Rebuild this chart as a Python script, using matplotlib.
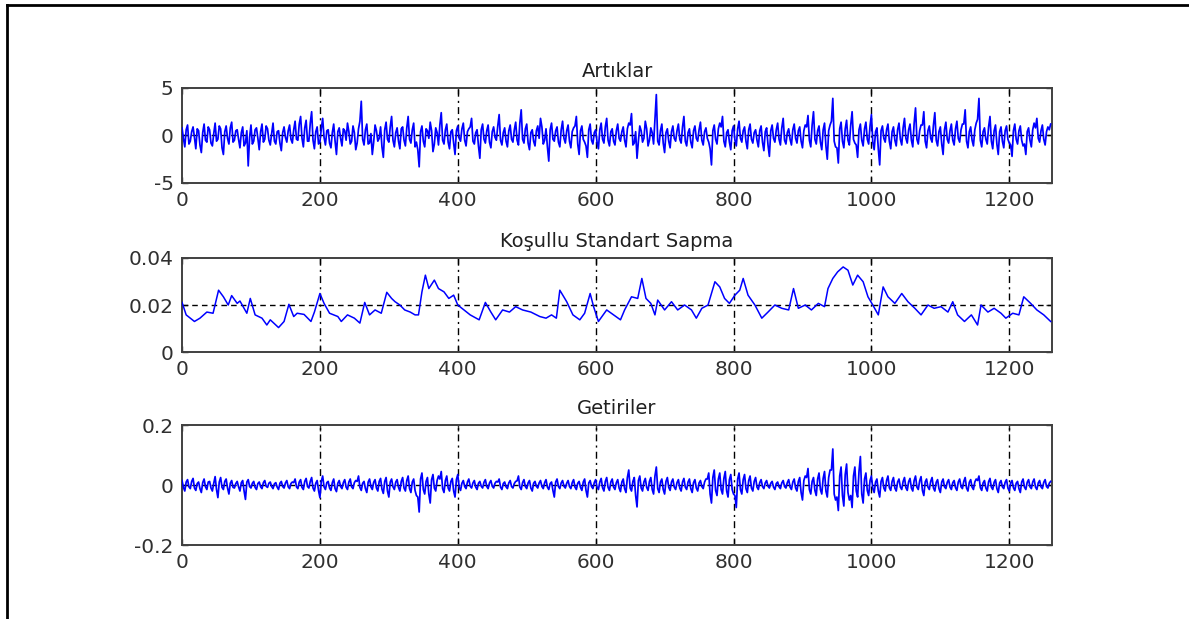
import matplotlib
matplotlib.use("Agg")
import matplotlib.pyplot as plt
from matplotlib.lines import Line2D
import numpy as np

# ---------------------------------------------------------------------------#
# data
# residuals / returns: *_a at t = 0, 4, 8, ...   *_b at t = 2, 6, 10, ...
# ---------------------------------------------------------------------------#
step = 2

residuals_a = [
    0.8, -1.2, 1.1, -0.6, 0.9, -1.4, 0.5, -1.8, 1.2, -0.7, 0.6, -1.1, 1.3, -0.4, 0.7, -2.0, 1.0, -0.9, 1.4, -0.5,
    0.6, -1.3, 0.9, -0.8, -3.2, 1.1, -0.6, 0.8, -1.5, 1.2, -0.4, 0.7, -1.0, 1.3, -0.9, 0.5, -1.6, 0.9, -0.7, 1.1,
    -0.8, 1.5, -0.5, 2.0, -1.2, 1.6, -0.6, 2.5, -1.4, 0.9, -0.7, 1.8, -1.0, 0.6, -1.3, 1.2, -2.0, 0.8, -1.1, 0.5,
    1.3, -0.9, 1.0, -1.5, 0.7, 3.6, -1.0, 1.2, -0.8, -2.0, 1.1, -0.6, 0.9, -2.3, 1.4, -0.7, 2.0, -1.2, 0.8, -1.4,
    0.9, -1.1, 2.0, -0.8, 1.3, -0.7, -3.3, 1.0, -1.2, 0.5, 1.4, -1.7, 0.8, -1.0, 2.4, -0.9, 1.2, -1.4, 0.6, -2.0,
    1.0, -0.6, 1.3, -1.1, 0.7, 1.8, -0.9, 0.6, -2.4, 1.2, -0.8, 1.1, -1.3, 0.9, -0.5, 2.2, -1.0, 0.8, -1.2, 1.1,
    -0.7, 1.4, -1.0, 2.7, -0.8, 1.2, -1.5, 0.6, -1.1, 1.0, 1.8, -0.9, 0.7, -2.7, 1.3, -0.6, 0.9, -1.2, 1.5, -0.8,
    1.1, -1.3, 0.8, 2.0, -2.0, 1.0, -0.7, -2.3, 1.2, -0.9, 0.6, -1.4, 1.3, -0.8, 1.8, -1.1, 0.7, -1.0, 1.2, -0.6,
    0.9, -1.2, 1.3, 2.3, -0.8, -2.4, 1.0, -0.7, 1.5, -1.1, 0.8, -0.9, 4.3, -1.0, 1.2, -1.8, 0.7, -1.3, 1.0, -0.6,
    1.2, -0.8, 2.0, -1.1, 0.7, -1.3, 1.0, -0.6, 1.4, -1.0, 0.8, -0.7, -3.1, 1.1, -0.9, 1.3, 2.0, -1.2, 0.6, -1.5,
    1.0, -1.1, 1.5, -0.7, 0.9, -1.4, 1.2, -0.8, 0.6, -1.2, 1.0, -1.6, 0.8, -2.2, 1.1, -0.7, 1.3, -1.0, 1.8, -0.9,
    0.7, -1.0, 1.2, -0.8, 0.9, -1.3, 1.1, 2.1, -1.2, 2.5, -0.9, 1.0, -1.5, 1.3, -2.5, 1.1, 3.9, -1.2, -2.9, 1.4,
    -1.3, 1.6, -1.0, 2.5, -0.8, -2.3, 1.2, -1.1, 1.4, -0.9, 2.2, -1.5, 0.8, -3.1, 1.0, -0.7, 1.2, -1.4, 0.9, -1.1,
    1.3, -1.0, 1.8, -0.8, 1.2, -1.2, 2.9, -0.9, 1.1, 2.5, -1.3, 1.0, -0.7, 2.4, -1.1, 0.9, -2.0, 1.4, -0.8, 1.2,
    -1.0, 1.5, -0.7, 1.2, 2.7, -1.3, 0.9, -1.1, 1.3, 3.9, -1.2, 0.8, -0.9, 2.0, -1.4, 1.1, -2.0, 0.9, -1.3, 1.0,
    -0.8, -2.2, 1.2, -0.9, 1.0, -1.1, -2.0, 0.8, -1.2, 1.3, 1.8, -0.7, 1.1, -1.0, 0.9, 1.2,
]
residuals_b = [
    -0.3, 0.6, -0.9, 0.4, -0.2, 0.7, -1.0, 0.3, -0.5, 0.9, -0.8, 0.2, -0.6, 1.0, -1.3, 0.4, -0.3, 0.8, -0.7, 0.5,
    -0.4, 0.3, -1.1, 0.5, -0.2, -0.9, 0.6, -0.3, 0.4, -0.7, 1.0, -0.5, 0.2, -0.6, 0.4, -0.8, 0.3, -0.2, 0.5, -0.4,
    0.6, -0.4, 1.2, -0.3, 0.8, -0.6, 1.3, -0.5, 0.4, -0.9, 0.7, -0.2, 0.5, -0.8, 0.3, -0.6, 0.4, -0.3, 0.7, -0.5,
    0.4, -0.6, 0.3, -0.8, 1.5, -0.4, 0.6, -0.9, 0.2, -0.7, 0.5, -0.3, -1.2, 0.6, -0.4, 0.9, -0.5, 0.3, -0.6, 0.7,
    -0.5, 0.8, -0.4, 0.6, -1.2, -1.5, 0.4, -0.6, 0.7, -0.3, 0.5, -0.9, 0.3, 1.1, -0.5, 0.6, -0.7, 0.4, -0.8, 0.5,
    -0.3, 0.7, -0.5, 0.4, 0.9, -0.6, 0.3, -1.1, 0.6, -0.4, 0.5, -0.7, 0.4, -0.2, 1.0, -0.5, 0.3, -0.6, 0.5, -0.4,
    0.6, -0.5, 1.3, -0.4, 0.7, -0.8, 0.3, -0.6, 0.5, -0.3, 0.9, -0.5, -1.2, 0.6, -0.4, 0.5, -0.7, 0.6, -0.3, 0.5,
    -0.6, 0.4, 1.0, -0.9, 0.5, -0.4, -1.1, 0.6, -0.5, 0.3, -0.7, 0.6, -0.4, 0.9, -0.5, 0.4, -0.6, 0.5, -0.3, 0.4,
    -0.5, 0.7, 1.1, -1.0, 0.4, -0.6, 0.5, -0.3, 0.7, -0.5, 0.3, 1.6, -0.6, 0.5, -0.8, 0.3, -0.6, 0.4, -0.3, 0.5,
    -0.4, 0.9, -0.6, 0.3, -0.7, 0.5, -0.3, 0.6, -0.5, 0.4, -0.3, -1.4, 0.5, -0.4, 0.7, 0.9, -0.6, 0.3, -0.7, 0.5,
    -0.5, 0.7, -0.3, 0.5, -0.6, 0.6, -0.4, 0.3, -0.5, 0.5, -0.7, 0.4, -1.0, 0.5, -0.3, 0.6, -0.4, 0.8, -0.5, 0.3,
    -0.4, 0.6, -0.3, 0.5, -0.6, 0.5, 0.9, -0.5, 1.1, -0.4, 0.5, -0.7, 0.6, -1.1, 0.5, 1.5, -0.6, -1.3, 0.7, -0.6,
    0.7, -0.5, 1.1, -0.4, -1.0, 0.6, -0.5, 0.7, -0.4, 1.0, -0.7, 0.4, -1.4, 0.5, -0.3, 0.6, -0.6, 0.4, -0.5, 0.6,
    -0.4, 0.8, -0.3, 0.6, -0.5, 1.3, -0.4, 0.5, 1.1, -0.6, 0.5, -0.3, 1.1, -0.5, 0.4, -0.9, 0.6, -0.4, 0.5, -0.5,
    0.7, -0.3, 0.6, 1.2, -0.6, 0.4, -0.5, 0.6, 1.7, -0.5, 0.4, -0.4, 0.9, -0.6, 0.5, -0.9, 0.4, -0.6, 0.5, -0.4,
    -1.0, 0.5, -0.4, 0.5, -0.5, -0.9, 0.4, -0.5, 0.6, 0.8, -0.3, 0.5, -0.4, 0.4, 0.6,
]

returns_a = [
    0.015, -0.02, 0.018, -0.012, 0.022, -0.018, 0.01, -0.025, 0.02, -0.015, 0.012, -0.02, 0.028, -0.042, 0.025, -0.015, 0.02, -0.03, 0.015, -0.01,
    0.012, -0.02, 0.015, -0.048, 0.018, -0.01, 0.012, -0.015, 0.01, -0.012, 0.015, -0.008, 0.01, -0.012, 0.008, -0.015, 0.012, -0.01, 0.015, -0.012,
    0.01, 0.02, -0.012, 0.018, -0.015, 0.022, -0.01, 0.025, -0.02, 0.015, -0.042, 0.03, -0.015, 0.012, -0.018, 0.02, -0.022, 0.015, -0.012, 0.018,
    -0.015, 0.02, -0.012, 0.015, 0.03, -0.018, 0.012, -0.025, 0.02, -0.015, 0.018, -0.02, 0.022, -0.028, 0.025, -0.04, 0.02, -0.015, 0.018, -0.02,
    0.025, -0.02, 0.03, -0.025, 0.02, -0.035, -0.09, 0.04, -0.03, 0.025, -0.06, 0.035, -0.02, 0.03, 0.045, -0.025, 0.03, -0.02, 0.022, -0.04,
    0.035, -0.018, 0.015, -0.012, 0.02, -0.01, 0.015, -0.015, 0.012, -0.01, 0.018, -0.012, 0.015, -0.01, 0.012, 0.02, -0.015, 0.01, -0.012, 0.015,
    -0.01, 0.012, 0.03, -0.015, 0.018, -0.012, 0.015, -0.02, 0.012, -0.01, 0.015, -0.012, 0.018, -0.015, 0.01, -0.04, 0.02, -0.012, 0.015, -0.01,
    0.015, -0.012, 0.018, -0.015, 0.012, -0.018, 0.02, -0.04, 0.015, -0.012, 0.018, -0.015, 0.022, -0.02, 0.025, -0.018, 0.02, -0.015, 0.018, -0.022,
    0.02, -0.025, 0.05, -0.02, 0.025, -0.073, 0.03, -0.02, 0.022, -0.018, 0.025, -0.03, 0.06, -0.025, 0.02, -0.03, 0.025, -0.018, 0.02, -0.015,
    0.018, -0.02, 0.022, -0.015, 0.02, -0.025, 0.018, -0.02, 0.015, -0.012, 0.02, 0.04, -0.06, 0.05, -0.035, 0.04, -0.03, 0.045, -0.04, 0.035,
    -0.03, -0.075, 0.04, -0.03, 0.035, -0.025, 0.03, -0.02, 0.025, -0.015, 0.018, -0.012, 0.015, -0.01, 0.012, -0.015, 0.01, -0.012, 0.015, -0.01,
    0.018, -0.015, 0.02, -0.02, 0.025, -0.05, 0.03, 0.055, -0.03, 0.025, -0.035, 0.04, -0.03, 0.045, -0.04, 0.05, 0.12, -0.05, -0.085, 0.06,
    -0.07, 0.07, -0.05, -0.075, 0.06, -0.04, 0.095, -0.06, 0.04, -0.035, 0.03, -0.025, 0.02, -0.04, 0.025, -0.02, 0.03, -0.018, 0.025, -0.02,
    0.02, -0.015, 0.025, -0.018, 0.022, -0.02, 0.03, -0.015, 0.028, -0.035, 0.02, -0.015, 0.025, -0.02, 0.018, -0.025, 0.02, -0.012, 0.018, -0.015,
    0.015, -0.018, 0.02, -0.012, 0.025, -0.02, 0.018, -0.015, 0.02, 0.03, -0.018, 0.015, -0.02, 0.022, -0.015, 0.018, -0.025, 0.015, -0.012, 0.018,
    -0.02, 0.015, -0.018, 0.012, -0.025, 0.02, -0.015, 0.018, -0.012, 0.02, -0.015, 0.015, -0.012, 0.018, -0.01, 0.012,
]
returns_b = [
    -0.008, 0.01, -0.006, 0.012, -0.01, 0.005, -0.012, 0.008, -0.006, 0.01, -0.01, 0.006, -0.015, 0.01, -0.008, 0.012, -0.01, 0.006, -0.008, 0.005,
    -0.006, 0.008, -0.02, 0.01, -0.005, 0.006, -0.008, 0.005, -0.006, 0.008, -0.004, 0.006, -0.005, 0.004, -0.007, 0.006, -0.005, 0.007, -0.006, 0.005,
    0.008, -0.006, 0.01, -0.008, 0.012, -0.005, 0.012, -0.01, 0.006, -0.018, 0.012, -0.006, 0.008, -0.01, 0.008, -0.012, 0.006, -0.005, 0.008, -0.007,
    0.01, -0.006, 0.008, 0.012, -0.008, 0.006, -0.012, 0.01, -0.006, 0.009, -0.01, 0.012, -0.014, 0.012, -0.02, 0.01, -0.006, 0.01, -0.008, 0.012,
    -0.01, 0.015, -0.012, 0.01, -0.018, -0.04, 0.02, -0.015, 0.012, -0.03, 0.018, -0.01, 0.015, 0.02, -0.012, 0.015, -0.01, 0.012, -0.02, 0.018,
    -0.008, 0.006, -0.005, 0.01, -0.004, 0.007, -0.007, 0.006, -0.004, 0.009, -0.005, 0.007, -0.004, 0.006, 0.01, -0.007, 0.005, -0.006, 0.007, -0.005,
    0.005, 0.014, -0.007, 0.008, -0.005, 0.007, -0.01, 0.006, -0.004, 0.007, -0.005, 0.008, -0.007, 0.005, -0.018, 0.01, -0.005, 0.007, -0.004, 0.006,
    -0.005, 0.008, -0.007, 0.006, -0.008, 0.01, -0.018, 0.007, -0.005, 0.008, -0.007, 0.01, -0.009, 0.012, -0.008, 0.01, -0.007, 0.008, -0.01, 0.01,
    -0.012, 0.025, -0.01, 0.012, -0.035, 0.015, -0.01, 0.01, -0.008, 0.012, -0.015, 0.03, -0.012, 0.01, -0.015, 0.012, -0.008, 0.01, -0.007, 0.008,
    -0.01, 0.01, -0.007, 0.01, -0.012, 0.008, -0.01, 0.007, -0.005, 0.01, 0.02, -0.03, 0.025, -0.018, 0.02, -0.015, 0.022, -0.02, 0.018, -0.015,
    -0.035, 0.02, -0.015, 0.018, -0.012, 0.015, -0.01, 0.012, -0.007, 0.008, -0.005, 0.007, -0.004, 0.006, -0.007, 0.005, -0.006, 0.007, -0.005, 0.008,
    -0.007, 0.01, -0.01, 0.012, -0.025, 0.015, 0.025, -0.015, 0.012, -0.018, 0.02, -0.015, 0.022, -0.02, 0.025, 0.05, -0.03, -0.04, 0.03, -0.035,
    0.035, -0.025, -0.035, 0.03, -0.02, 0.045, -0.03, 0.02, -0.018, 0.015, -0.012, 0.01, -0.02, 0.012, -0.01, 0.015, -0.009, 0.012, -0.01, 0.01,
    -0.007, 0.012, -0.009, 0.011, -0.01, 0.015, -0.007, 0.014, -0.018, 0.01, -0.007, 0.012, -0.01, 0.009, -0.012, 0.01, -0.006, 0.009, -0.007, 0.008,
    -0.009, 0.01, -0.006, 0.012, -0.01, 0.009, -0.007, 0.01, 0.015, -0.009, 0.007, -0.01, 0.011, -0.007, 0.009, -0.012, 0.007, -0.006, 0.009, -0.01,
    0.007, -0.009, 0.006, -0.012, 0.01, -0.007, 0.009, -0.006, 0.01, -0.007, 0.007, -0.006, 0.009, -0.005, 0.006,
]

# conditional standard deviation: (index, value) pairs read at turning points
std_t = [0, 6, 18, 26, 36, 45, 53, 60, 67, 72, 80, 84, 94, 99, 106, 116, 123, 128, 140, 148,
         155, 162, 167, 177, 187, 192, 200, 206, 214, 226, 231, 240, 250, 258, 265, 272, 280, 289, 297, 304,
         309, 316, 323, 331, 338, 343, 348, 353, 358, 366, 372, 380, 387, 394, 400, 409, 418, 431, 440, 448,
         455, 465, 475, 484, 494, 506, 519, 528, 536, 543, 548, 558, 567, 577, 584, 592, 597, 604, 616, 626,
         636, 642, 652, 661, 667, 673, 680, 686, 690, 700, 710, 719, 729, 739, 746, 754, 763, 773, 780, 787,
         794, 802, 809, 814, 821, 831, 841, 850, 860, 870, 880, 887, 894, 904, 913, 923, 932, 937, 944, 951,
         959, 966, 973, 980, 988, 995, 1002, 1010, 1017, 1024, 1034, 1044, 1053, 1063, 1072, 1082, 1091, 1101, 1111, 1118,
         1125, 1135, 1145, 1154, 1159, 1169, 1178, 1188, 1195, 1205, 1214, 1221, 1231, 1240, 1250, 1260]
std_v = [0.0211, 0.0158, 0.0130, 0.0144, 0.0170, 0.0165, 0.0263, 0.0235, 0.0200, 0.0240, 0.0207, 0.0217, 0.0165, 0.0228, 0.0158, 0.0144, 0.0115, 0.0137, 0.0104, 0.0130,
         0.0203, 0.0151, 0.0165, 0.0160, 0.0130, 0.0170, 0.0249, 0.0207, 0.0165, 0.0151, 0.0130, 0.0158, 0.0144, 0.0123, 0.0211, 0.0158, 0.0179, 0.0165, 0.0254, 0.0228,
         0.0214, 0.0200, 0.0179, 0.0170, 0.0158, 0.0158, 0.0256, 0.0327, 0.0270, 0.0306, 0.0270, 0.0256, 0.0228, 0.0242, 0.0200, 0.0179, 0.0158, 0.0137, 0.0211, 0.0170,
         0.0137, 0.0179, 0.0170, 0.0193, 0.0179, 0.0170, 0.0151, 0.0144, 0.0158, 0.0144, 0.0263, 0.0214, 0.0158, 0.0137, 0.0165, 0.0249, 0.0193, 0.0130, 0.0179, 0.0158,
         0.0137, 0.0179, 0.0235, 0.0228, 0.0313, 0.0228, 0.0207, 0.0158, 0.0221, 0.0179, 0.0214, 0.0179, 0.0200, 0.0179, 0.0144, 0.0186, 0.0200, 0.0299, 0.0277, 0.0228,
         0.0207, 0.0242, 0.0263, 0.0313, 0.0242, 0.0200, 0.0144, 0.0170, 0.0200, 0.0186, 0.0179, 0.0270, 0.0186, 0.0200, 0.0179, 0.0207, 0.0193, 0.0270, 0.0313, 0.0341,
         0.0362, 0.0348, 0.0285, 0.0327, 0.0299, 0.0235, 0.0200, 0.0158, 0.0277, 0.0235, 0.0207, 0.0249, 0.0214, 0.0186, 0.0158, 0.0200, 0.0186, 0.0193, 0.0170, 0.0214,
         0.0158, 0.0130, 0.0158, 0.0115, 0.0200, 0.0170, 0.0186, 0.0165, 0.0144, 0.0165, 0.0158, 0.0235, 0.0207, 0.0179, 0.0158, 0.0130]

titles = ["Artıklar", "Koşullu Standart Sapma", "Getiriler"]
yticks = [[-5, 0, 5], [0, 0.02, 0.04], [-0.2, 0, 0.2]]
yticklabels = [["-5", "0", "5"], ["0", "0.02", "0.04"], ["-0.2", "0", "0.2"]]
xticks = [0, 200, 400, 600, 800, 1000, 1200]
n_obs = 1262


def merge(a, b):
    """Interleave the two sampled halves of a series."""
    out = np.empty(len(a) + len(b))
    out[0::2] = a
    out[1::2] = b
    return np.arange(len(out)) * step, out


# ---------------------------------------------------------------------------#
plt.rcParams['font.family'] = ['DejaVu Sans']
fig = plt.figure(figsize=(11.89, 6.19), dpi=100)

# axes boxes in figure fraction (left, bottom, width, height)
boxes = [(0.1531, 0.7044, 0.7317, 0.1535),
         (0.1531, 0.4313, 0.7317, 0.1519),
         (0.1531, 0.1195, 0.7317, 0.1939)]

series = [merge(residuals_a, residuals_b), (std_t, std_v), merge(returns_a, returns_b)]
widths = [1.25, 1.1, 1.25]

for i, box in enumerate(boxes):
    ax = fig.add_axes(box)
    x, y = series[i]
    ax.plot(x, y, color='#0000ff', lw=widths[i], zorder=3)
    ax.set_xlim(0, n_obs)
    ax.set_ylim(yticks[i][0], yticks[i][-1])
    ax.set_xticks(xticks)
    ax.set_yticks(yticks[i])
    ax.set_yticklabels(yticklabels[i])
    ax.tick_params(direction='in', length=4, width=1, colors='#303030',
                   labelsize=14.5, labelcolor='#303030', top=True, right=True, pad=6)
    for s in ax.spines.values():
        s.set_color('#404040')
        s.set_linewidth(1.4)
    # matlab style grid lines
    for xt in xticks[1:]:
        ax.axvline(xt, color='black', lw=1.0, ls=(0, (5, 3, 1.5, 3)), zorder=2)
    mid = yticks[i][1]
    ax.axhline(mid, color='black', lw=1.0, ls=(0, (4, 3)), zorder=2)
    ax.set_title(titles[i], fontsize=14, color='#202020', pad=8)

# frame lines of the original picture (top and left)
fig.add_artist(Line2D([7 / 1189, 1.0], [1 - 5 / 619, 1 - 5 / 619], color='black', lw=2))
fig.add_artist(Line2D([7 / 1189, 7 / 1189], [0.0, 1 - 5 / 619], color='black', lw=2))

fig.savefig('out.png', dpi=100)
